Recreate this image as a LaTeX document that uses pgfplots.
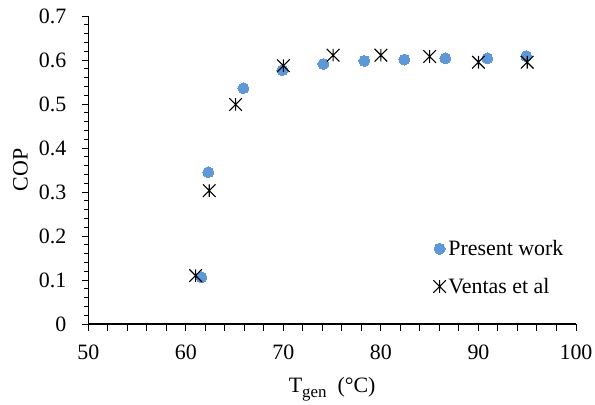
\documentclass[border=0pt]{standalone}
\usepackage{fontspec}
\setmainfont{Liberation Serif}
\usepackage{pgfplots}
\pgfplotsset{compat=1.18}
\definecolor{dotblue}{RGB}{95,152,214}
\pgfdeclareplotmark{xstar}{%
 \pgfpathmoveto{\pgfqpoint{-\pgfplotmarksize}{-\pgfplotmarksize}}%
 \pgfpathlineto{\pgfqpoint{\pgfplotmarksize}{\pgfplotmarksize}}%
 \pgfpathmoveto{\pgfqpoint{-\pgfplotmarksize}{\pgfplotmarksize}}%
 \pgfpathlineto{\pgfqpoint{\pgfplotmarksize}{-\pgfplotmarksize}}%
 \pgfpathmoveto{\pgfqpoint{0pt}{-\pgfplotmarksize}}%
 \pgfpathlineto{\pgfqpoint{0pt}{\pgfplotmarksize}}%
 \pgfusepathqstroke}
\begin{document}
\begin{tikzpicture}
\begin{axis}[
 at={(0,0)}, anchor=south west,
 scale only axis, width=487.7bp, height=308bp,
 xmin=50, xmax=100, ymin=0, ymax=0.7,
 axis lines=left, axis line style={line width=1.3bp, -},
 xtick={50,52,54,56,58,60,62,64,66,68,70,72,74,76,78,80,82,84,86,88,90,92,94,96,98,100},
 xticklabels={50,,,,,60,,,,,70,,,,,80,,,,,90,,,,,100},
 ytick={0,0.1,0.2,0.3,0.4,0.5,0.6,0.7},
 yticklabels={0,0.1,0.2,0.3,0.4,0.5,0.6,0.7},
 minor y tick num=4,
 tick align=outside, tick style={line width=1bp, black},
 major tick length=6.5bp, minor tick length=4.5bp,
 tick label style={font=\fontsize{22}{26}\selectfont},
 xticklabel style={yshift=-11bp},
 yticklabel style={xshift=-12bp},
 ylabel={COP},
 every axis y label/.style={at={(axis description cs:-0.139,0.5)}, rotate=90, anchor=center, font=\fontsize{22}{26}\selectfont},
 xlabel={T\raisebox{-0.5ex}{\fontsize{17}{17}\selectfont gen}\ \ (°C)},
 every axis x label/.style={at={(axis description cs:0.5,-0.221)}, anchor=base, font=\fontsize{22}{26}\selectfont},
 legend style={at={(axis cs:85.35,0.196)}, anchor=north west, draw=none, fill=none,
   font=\fontsize{22}{26}\selectfont, row sep=16bp, inner sep=0pt,
   nodes={inner sep=2.5bp}},
 legend cell align=left,
 legend image code/.code={\draw[mark repeat=1,#1] plot coordinates {(0cm,0cm)};},
 clip=false,
]
\addplot[only marks, mark=*, mark size=5.5bp, dotblue, mark options={draw=dotblue, fill=dotblue, line width=0pt}]
 coordinates {(61.6,0.106) (62.3,0.345) (65.9,0.536) (69.9,0.577) (74.1,0.591) (78.3,0.598) (82.4,0.601) (86.6,0.604) (90.9,0.604) (94.9,0.609)};
\addlegendentry{Present work}
\addplot[only marks, mark=xstar, mark size=6.3bp, black, mark options={line width=1.1bp, black}]
 coordinates {(61.0,0.110) (62.4,0.303) (65.1,0.499) (70.0,0.587) (75.1,0.611) (80.0,0.611) (85.0,0.608) (90.0,0.595) (95.0,0.595)};
\addlegendentry{Ventas et al}
\end{axis}
\pgfresetboundingbox
\path[use as bounding box] (-88.3bp,-81bp) rectangle (506.7bp,324bp);
\end{tikzpicture}
\end{document}
